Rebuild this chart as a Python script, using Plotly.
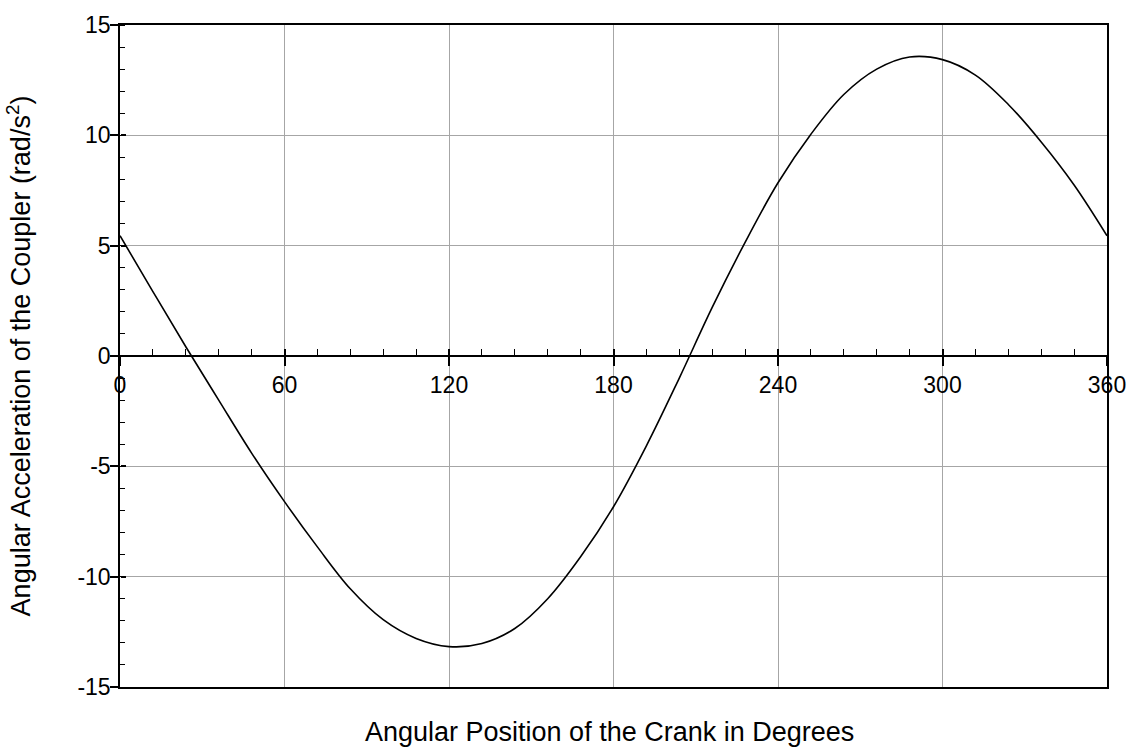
import plotly.graph_objects as go

crank_deg = [0, 12, 24, 36, 48, 60, 72, 84, 96, 108, 120, 132, 144, 156, 168, 180,
             192, 204, 216, 228, 240, 252, 264, 276, 288, 300, 312, 324, 336, 348, 360]
coupler_acc = [5.45, 2.92, 0.42, -2.0, -4.4, -6.6, -8.65, -10.55, -11.95, -12.8, -13.17,
               -13.03, -12.35, -11.0, -9.1, -6.83, -4.07, -1.0, 2.2, 5.15, 7.85, 10.05,
               11.85, 13.0, 13.55, 13.43, 12.73, 11.4, 9.7, 7.75, 5.45]
x_ticks = [0, 60, 120, 180, 240, 300, 360]
y_ticks = [-15, -10, -5, 0, 5, 10, 15]

FONT = "Liberation Sans, Arial, sans-serif"
FS = 23
TFS = 27

fig = go.Figure()
fig.add_trace(go.Scatter(x=crank_deg, y=coupler_acc, mode="lines",
                         line=dict(color="black", width=1.6, shape="spline", smoothing=1.0),
                         xaxis="x", yaxis="y", showlegend=False, hoverinfo="skip"))

fig.update_layout(
    width=1139, height=750,
    margin=dict(l=120, r=32, t=19, b=63),
    paper_bgcolor="white", plot_bgcolor="white",
    font=dict(family=FONT, size=FS, color="black"),
    xaxis=dict(range=[0, 360], anchor="free", position=0.5,
               tickvals=x_ticks, ticktext=[str(v) for v in x_ticks],
               ticks="outside", ticklen=9, tickwidth=1.5, tickcolor="black",
               showline=True, linecolor="black", linewidth=1.5,
               showgrid=True, gridcolor="#a6a6a6", gridwidth=1,
               zeroline=False, tickfont=dict(size=FS)),
    xaxis3=dict(range=[0, 360], overlaying="x", anchor="free", position=0.5,
                tickvals=x_ticks, showticklabels=False,
                ticks="inside", ticklen=7, tickwidth=1.5, tickcolor="black",
                minor=dict(ticks="inside", dtick=12, ticklen=7, tickwidth=1.2,
                           tickcolor="black", showgrid=False),
                showline=False, showgrid=False, zeroline=False),
    xaxis2=dict(range=[0, 360], overlaying="x", anchor="y", side="bottom",
                showline=True, mirror=True, linecolor="black", linewidth=1.5,
                showticklabels=False, ticks="", showgrid=False, zeroline=False),
    yaxis=dict(range=[-15, 15], tickvals=y_ticks, ticktext=[str(v) for v in y_ticks],
               ticks="outside", ticklen=8, tickwidth=1.5, tickcolor="black",
               ticklabelstandoff=-5,
               minor=dict(ticks="inside", dtick=1, ticklen=5, tickwidth=1.2,
                          tickcolor="black", showgrid=False),
               showline=True, mirror=True, linecolor="black", linewidth=1.5,
               showgrid=True, gridcolor="#a6a6a6", gridwidth=1,
               zeroline=False, tickfont=dict(size=FS),
               title=dict(text="Angular Acceleration of the Coupler (rad/s<sup>2</sup>)",
                          font=dict(size=TFS), standoff=39)),
    yaxis2=dict(range=[-15, 15], overlaying="y", anchor="free", position=0, side="left",
                tickvals=y_ticks, showticklabels=False,
                ticks="inside", ticklen=5, tickwidth=1.5, tickcolor="black",
                showline=False, showgrid=False, zeroline=False),
    annotations=[dict(text="Angular Position of the Crank in Degrees",
                      xref="paper", yref="paper", x=0.496, y=-0.068,
                      xanchor="center", yanchor="middle", showarrow=False,
                      font=dict(size=TFS, family=FONT, color="black"))],
)

fig.add_trace(go.Scatter(x=[0], y=[0], xaxis="x2", yaxis="y", mode="markers",
                         marker=dict(opacity=0), showlegend=False, hoverinfo="skip"))
fig.add_trace(go.Scatter(x=[0], y=[0], xaxis="x3", yaxis="y2", mode="markers",
                         marker=dict(opacity=0), showlegend=False, hoverinfo="skip"))

fig.write_html("out.html")
